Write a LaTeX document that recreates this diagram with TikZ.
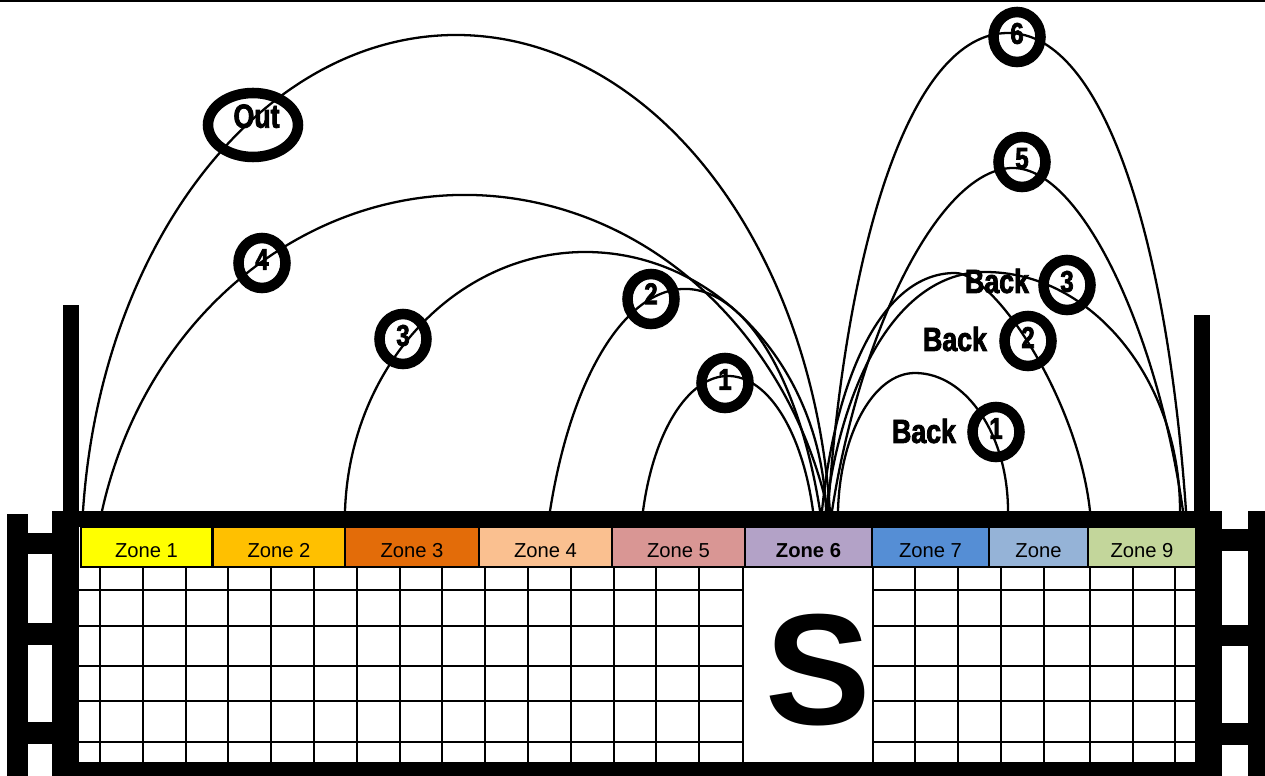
\documentclass[tikz,border=0pt]{standalone}
\usepackage{fontspec}
\setmainfont{Liberation Sans}
\newfontfamily\heavy[FakeStretch=0.8,FakeBold=2.5]{Liberation Sans Bold}
\usetikzlibrary{shapes.geometric}
\definecolor{zA}{HTML}{FFFF00}
\definecolor{zB}{HTML}{FFC000}
\definecolor{zC}{HTML}{E36C09}
\definecolor{zD}{HTML}{FAC090}
\definecolor{zE}{HTML}{D99694}
\definecolor{zF}{HTML}{B3A2C7}
\definecolor{zG}{HTML}{558ED5}
\definecolor{zH}{HTML}{95B3D7}
\definecolor{zI}{HTML}{C3D69B}
\begin{document}
\begin{tikzpicture}[x=0.02cm,y=-0.02cm,
  arcline/.style={line width=1.3pt},
  gridline/.style={line width=1.2pt},
  ring/.style={draw, ellipse, line width=6pt, minimum width=0.94cm, minimum height=1.0cm, inner sep=0pt},
  outring/.style={draw, ellipse, line width=6pt, minimum width=1.8cm, minimum height=1.28cm, inner sep=0pt},
  numtxt/.style={font=\heavy\fontsize{17}{17}\selectfont, inner sep=0pt},
  outtxt/.style={font=\heavy\fontsize{19}{19}\selectfont, inner sep=0pt},
  backtxt/.style={font=\heavy\fontsize{19}{19}\selectfont, inner sep=0pt},
  zone/.style={draw=black, line width=0.6pt, minimum height=0.8cm, inner sep=0pt, text height=11.5pt, text depth=0pt, font=\fontsize{11.5}{13}\selectfont}]
\useasboundingbox (0,0) rectangle (1265,776);
% top rule
\fill (0,0) rectangle (1265,2.5);
% left structure
\fill (7,514) rectangle (28,776);
\fill (28,533) rectangle (52,554);
\fill (28,623) rectangle (52,645);
\fill (28,722) rectangle (52,744);
\fill (63,305) rectangle (79,511);
% right structure
\fill (1194,315) rectangle (1210,511);
\fill (1222,529) rectangle (1248,551);
\fill (1222,625) rectangle (1248,646);
\fill (1222,723) rectangle (1248,745);
\fill (1248,511) rectangle (1265,776);
% frame
\fill (52,511) rectangle (1222,776);
\fill[white] (79,527) rectangle (1195,762);
% grid
\foreach \gx in {100,142.8,185.6,228.4,271.2,314,356.8,399.6,442.4,485.2,528,570.8,613.6,656.4,699.2,743.5,872.5,915,958,1001,1044,1090,1133,1175}
  \draw[gridline] (\gx,567) -- (\gx,762);
\foreach \gy in {590,626,666,701,742}
  \draw[gridline] (79,\gy) -- (1195,\gy);
\fill[white] (744.3,567) rectangle (871.7,762);
\node[inner sep=0pt, font=\fontsize{90}{90}\selectfont\bfseries] (S) at (818,670) {S};
% zones
\node[zone, fill=zA, minimum width=2.62cm] (z1) at (146.5,547) {Zone 1};
\node[zone, fill=zB, minimum width=2.64cm] (z2) at (279,547) {Zone 2};
\node[zone, fill=zC, minimum width=2.68cm] (z3) at (412,547) {Zone 3};
\node[zone, fill=zD, minimum width=2.66cm] (z4) at (545.5,547) {Zone 4};
\node[zone, fill=zE, minimum width=2.66cm] (z5) at (678.5,547) {Zone 5};
\node[zone, fill=zF, minimum width=2.54cm] (z6) at (808.5,547) {\bfseries Zone 6};
\node[zone, fill=zG, minimum width=2.34cm] (z7) at (930.5,547) {Zone 7};
\node[zone, fill=zH, minimum width=1.98cm] (z8) at (1038.5,547) {Zone};
\node[zone, fill=zI, minimum width=2.16cm] (z9) at (1142,547) {Zone 9};
% left arcs (to zone 6)
\coordinate (aOut) at (83,511);
\coordinate (a4) at (102,511);
\coordinate (a3) at (345,511);
\coordinate (a2) at (550,511);
\coordinate (a1) at (643,511);
\draw[arcline] (aOut) arc[start angle=185.355, end angle=354.645, x radius=375.1, y radius=525];
\draw[arcline] (a4) arc[start angle=193.91, end angle=346.09, x radius=374.0, y radius=416];
\draw[arcline] (a3) arc[start angle=182.13, end angle=357.87, x radius=240.7, y radius=269];
\draw[arcline] (a2) arc[start angle=200.54, end angle=339.46, x radius=144.2, y radius=342];
\draw[arcline] (a1) arc[start angle=195.68, end angle=344.32, x radius=88.3, y radius=185];
% right arcs (from zone 6)
\coordinate (b6s) at (828,511); \coordinate (b6p) at (1008,33); \coordinate (b6e) at (1186,511);
\coordinate (b5s) at (832,511); \coordinate (b5p) at (1013,168); \coordinate (b5e) at (1183,511);
\coordinate (k3s) at (826,511); \coordinate (k3p) at (985,272); \coordinate (k3e) at (1180,511);
\coordinate (k2s) at (822,511); \coordinate (k2p) at (955,273); \coordinate (k2e) at (1090,511);
\coordinate (k1s) at (838,511); \coordinate (k1p) at (915,373); \coordinate (k1e) at (1008,511);
\draw[arcline] (b6s) .. controls (846,248) and (909,33) .. (b6p) .. controls (1106,33) and (1168,248) .. (b6e);
\draw[arcline] (b5s) .. controls (860,330) and (940,168) .. (b5p) .. controls (1081,168) and (1157,330) .. (b5e);
\draw[arcline] (k3s) .. controls (842,380) and (898,272) .. (k3p) .. controls (1092,272) and (1180,380) .. (k3e);
\draw[arcline] (k2s) .. controls (835,380) and (881,273) .. (k2p) .. controls (995,273) and (1078,400) .. (k2e);
\draw[arcline] (k1s) .. controls (840,435) and (873,373) .. (k1p) .. controls (966,373) and (1008,435) .. (k1e);
% rings
\node[outring] (cOut) at (253,125) {};
\node[ring] (c4) at (262,263) {};
\node[ring] (c3L) at (403,339) {};
\node[ring] (c2L) at (651,299) {};
\node[ring] (c1L) at (725,383) {};
\node[ring] (c6) at (1017,37) {};
\node[ring] (c5) at (1022,162) {};
\node[ring] (c3R) at (1067,285) {};
\node[ring] (c2R) at (1028,341) {};
\node[ring] (c1R) at (996,432) {};
% ring texts
\node[outtxt] (tOut) at ([xshift=2pt,yshift=5pt]cOut.center) {Out};
\node[numtxt] (t4) at ([yshift=2pt]c4.center) {4};
\node[numtxt] (t3L) at ([yshift=2pt]c3L.center) {3};
\node[numtxt] (t2L) at ([yshift=3pt]c2L.center) {2};
\node[numtxt] (t1L) at ([yshift=2pt]c1L.center) {1};
\node[numtxt] (t6) at ([yshift=2pt]c6.center) {6};
\node[numtxt] (t5) at ([yshift=2pt]c5.center) {5};
\node[numtxt] (t3R) at ([yshift=2pt]c3R.center) {3};
\node[numtxt] (t2R) at ([yshift=2pt]c2R.center) {2};
\node[numtxt] (t1R) at ([yshift=2pt]c1R.center) {1};
% back labels
\node[backtxt] (back3) at (997,281) {Back};
\node[backtxt] (back2) at (955,339) {Back};
\node[backtxt] (back1) at (924,431) {Back};
\end{tikzpicture}
\end{document}
